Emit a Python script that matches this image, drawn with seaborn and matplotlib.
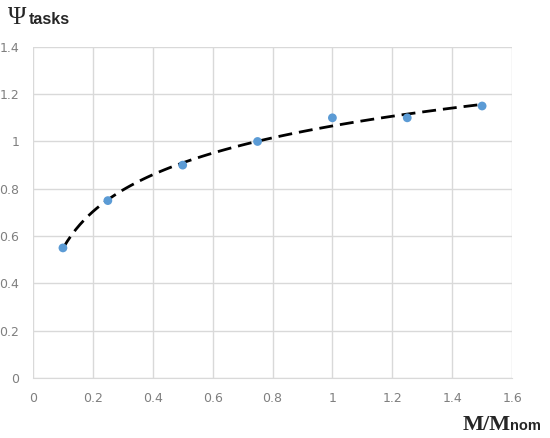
import matplotlib
matplotlib.use("Agg")
import matplotlib.pyplot as plt
import seaborn as sns
import numpy as np
import pandas as pd

# measured points
loadRatio = [0.1, 0.25, 0.5, 0.75, 1.0, 1.25, 1.5]
psiTasks = [0.55, 0.75, 0.90, 1.00, 1.10, 1.10, 1.15]
xTicks = [0, 0.2, 0.4, 0.6, 0.8, 1, 1.2, 1.4, 1.6]
yTicks = [0, 0.2, 0.4, 0.6, 0.8, 1, 1.2, 1.4]

df = pd.DataFrame({'ratio': loadRatio, 'psi': psiTasks})

sns.set_style("white")
fig = plt.figure(figsize=(5.5, 4.38), dpi=100)
ax = fig.add_axes([0.06, 0.137, 0.871, 0.756])

# logarithmic trend line (like Excel's log trendline)
sns.regplot(data=df, x='ratio', y='psi', logx=True, ci=None, scatter=False, ax=ax,
            line_kws={'color': 'black', 'linestyle': (0, (5, 2.5)), 'linewidth': 2})
sns.scatterplot(data=df, x='ratio', y='psi', ax=ax, color='#5B9BD5', s=40,
                edgecolor='none', zorder=3)

ax.set_xlim(0, 1.6)
ax.set_ylim(0, 1.4)
ax.set_xticks(xTicks)
ax.set_yticks(yTicks)
ax.set_xticklabels([f'{t:g}' for t in xTicks])
ax.set_yticklabels([f'{t:g}' for t in yTicks])
ax.grid(True, color='#D9D9D9', linewidth=1)
ax.set_axisbelow(True)
for side in ['top', 'right', 'left']:
    ax.spines[side].set_visible(False)
ax.spines['bottom'].set_color('#D9D9D9')
ax.tick_params(axis='both', colors='#7F7F7F', labelsize=9, length=0, pad=10)
ax.set_xlabel('')
ax.set_ylabel('')

# axis titles
fig.text(8 / 550, 1 - 24 / 438, '\u03a8', fontsize=18, family='Liberation Serif',
         va='baseline')
fig.text(29 / 550, 1 - 24 / 438, 'tasks', fontsize=11.5, fontweight='bold',
         family='Liberation Sans', va='baseline')
fig.text(463 / 550, 1 - 430 / 438, 'M/M', fontsize=16, fontweight='bold',
         family='Liberation Serif', va='baseline')
fig.text(510 / 550, 1 - 430 / 438, 'nom', fontsize=10.5, fontweight='bold',
         family='Liberation Sans', va='baseline')

fig.savefig('out.png', dpi=100)
